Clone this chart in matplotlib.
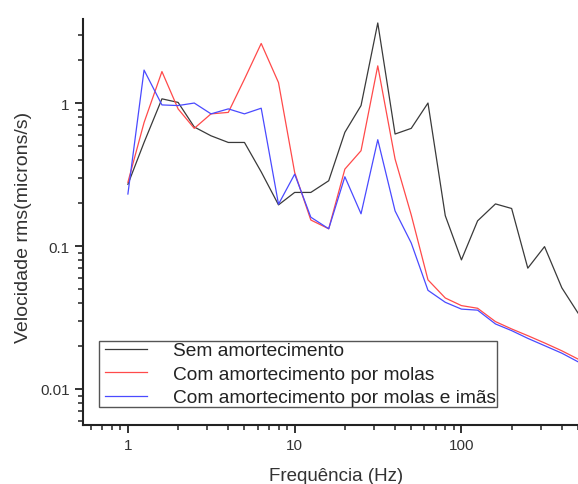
import matplotlib
matplotlib.use('Agg')
import matplotlib.pyplot as plt
from matplotlib.ticker import LogLocator, NullFormatter, FixedLocator, FixedFormatter

plt.rcParams['font.family'] = ['Liberation Sans', 'DejaVu Sans']

# 1/3 octave band centre frequencies (Hz)
freq = [1, 1.25, 1.6, 2, 2.5, 3.15, 4, 5, 6.3, 8, 10, 12.5, 16, 20, 25, 31.5,
        40, 50, 63, 80, 100, 125, 160, 200, 250, 315, 400, 500]

sem_amort = [0.27, 0.53, 1.07, 1.01, 0.68, 0.59, 0.53, 0.53, 0.33, 0.194, 0.237,
             0.237, 0.286, 0.624, 0.96, 3.63, 0.607, 0.665, 1.0, 0.163, 0.080,
             0.150, 0.197, 0.183, 0.070, 0.099, 0.051, 0.034]
molas = [0.279, 0.73, 1.66, 0.91, 0.665, 0.84, 0.86, 1.47, 2.61, 1.39, 0.327,
         0.152, 0.132, 0.345, 0.464, 1.82, 0.406, 0.165, 0.058, 0.0433, 0.0383,
         0.0367, 0.0296, 0.0263, 0.0236, 0.021, 0.0185, 0.0162]
molas_imas = [0.231, 1.70, 0.97, 0.96, 1.0, 0.84, 0.91, 0.84, 0.92, 0.196, 0.318,
              0.159, 0.132, 0.305, 0.168, 0.554, 0.176, 0.105, 0.049, 0.0404,
              0.0362, 0.0356, 0.0285, 0.0256, 0.0226, 0.0201, 0.0178, 0.0155]

labels = ['Sem amortecimento', 'Com amortecimento por molas',
          'Com amortecimento por molas e imãs']

fig = plt.figure(figsize=(5.78, 4.85), dpi=100)
ax = fig.add_axes([83 / 578, 59 / 485, 495 / 578, 406 / 485])

ax.plot(freq, sem_amort, color='#3a3a3a', lw=0.9, label=labels[0])
ax.plot(freq, molas, color='#ff4a4a', lw=0.9, label=labels[1])
ax.plot(freq, molas_imas, color='#4a4aff', lw=0.9, label=labels[2])

ax.set_xscale('log')
ax.set_yscale('log')
ax.set_xlim(0.538, 500)
ax.set_ylim(0.0056, 3.87)

ax.xaxis.set_major_locator(FixedLocator([1, 10, 100]))
ax.xaxis.set_major_formatter(FixedFormatter(['1', '10', '100']))
ax.xaxis.set_minor_locator(LogLocator(base=10, subs=range(2, 10)))
ax.xaxis.set_minor_formatter(NullFormatter())
ax.yaxis.set_major_locator(FixedLocator([0.01, 0.1, 1]))
ax.yaxis.set_major_formatter(FixedFormatter(['0.01', '0.1', '1']))
ax.yaxis.set_minor_locator(LogLocator(base=10, subs=range(2, 10)))
ax.yaxis.set_minor_formatter(NullFormatter())

for side in ['top', 'right']:
    ax.spines[side].set_visible(False)
for side in ['left', 'bottom']:
    ax.spines[side].set_linewidth(1.5)
    ax.spines[side].set_color('#222222')

ax.tick_params(which='major', direction='out', length=6, width=1.3,
               labelsize=11, colors='#222222', labelcolor='#333333')
ax.tick_params(which='minor', direction='out', length=3.5, width=1.1,
               colors='#222222')

ax.set_xlabel('Frequência (Hz)', fontsize=13.5, color='#333333')
ax.xaxis.set_label_coords(0.511, -0.104)
ax.set_ylabel('Velocidade rms(microns/s)', fontsize=14, color='#333333')
ax.yaxis.set_label_coords(-0.104, 0.489)

# numpoints=2 gives the short inset handle lines seen in the original
leg = ax.legend(loc='lower left', bbox_to_anchor=(0.0323, 0.0443),
                borderaxespad=0, fontsize=13.77, numpoints=2,
                handlelength=2.8, handletextpad=1.05, labelspacing=0.32,
                borderpad=0.03, fancybox=False, framealpha=1,
                edgecolor='#555555')
leg.get_frame().set_linewidth(1.0)
for t in leg.get_texts():
    t.set_color('#222222')

fig.savefig('out.png', dpi=100)
